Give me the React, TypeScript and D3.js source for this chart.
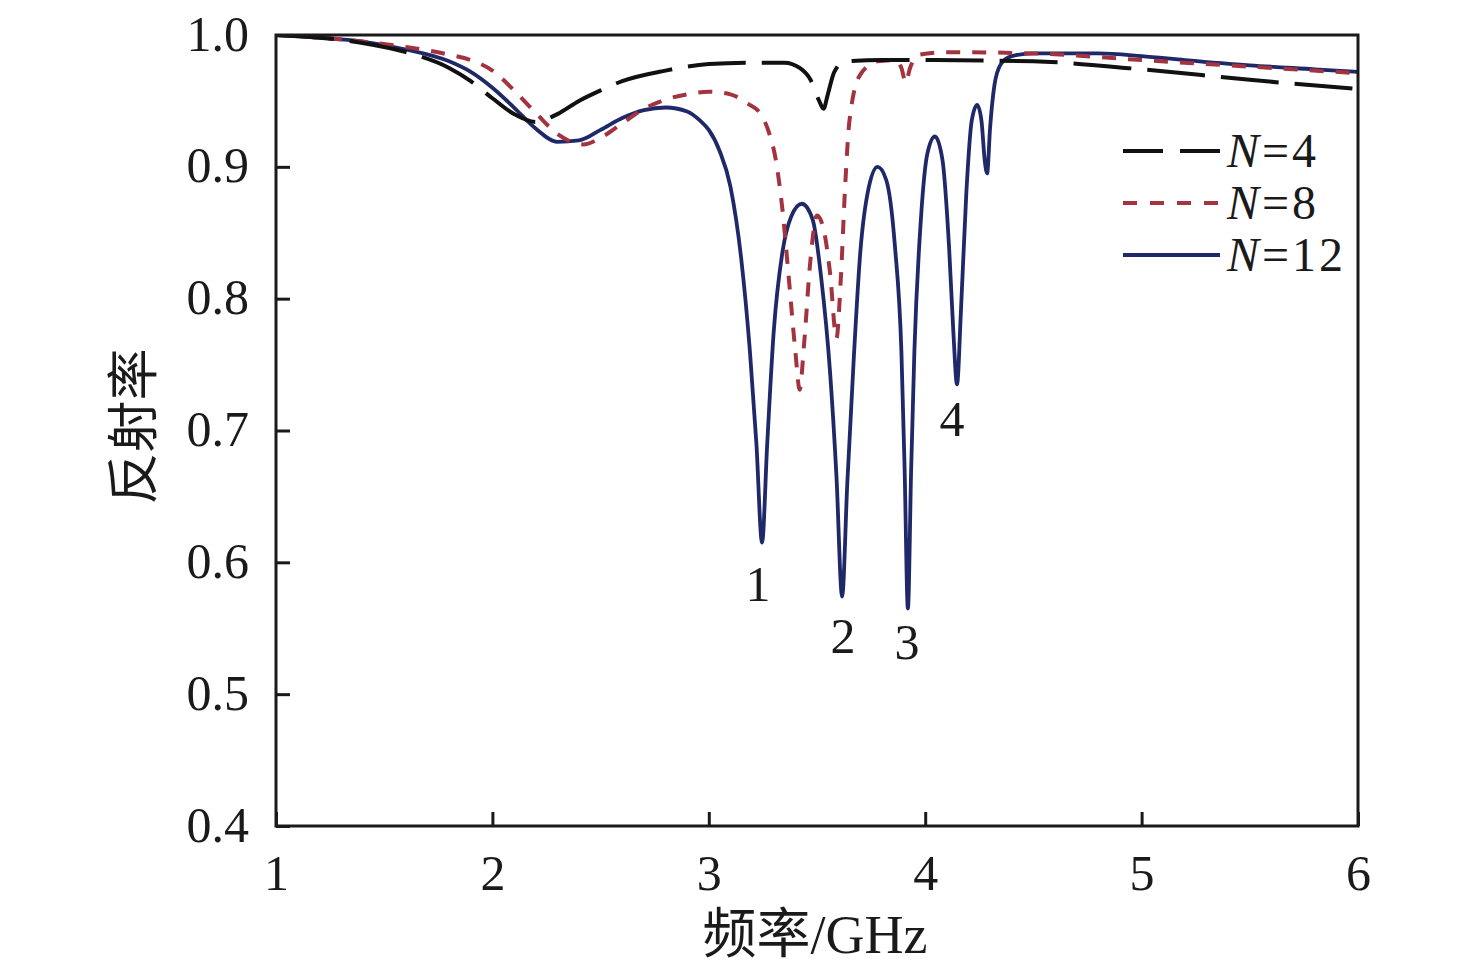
import React, { useEffect, useRef } from 'react';
import * as d3 from 'd3';

// 频率 (GHz) / 反射率 samples
const freqN4 = [1.0, 1.2, 1.4, 1.6, 1.8, 1.9, 2.0, 2.1, 2.2, 2.3, 2.4, 2.5, 2.6, 2.8, 3.0, 3.2, 3.35, 3.42, 3.47, 3.51, 3.53, 3.55, 3.58, 3.63, 3.8, 4.0, 4.5, 5.0, 5.5, 6.0];
const reflN4 = [1.0, 0.998, 0.994, 0.987, 0.975, 0.965, 0.952, 0.94, 0.934, 0.94, 0.95, 0.958, 0.965, 0.973, 0.978, 0.979, 0.979, 0.975, 0.966, 0.95, 0.944, 0.955, 0.972, 0.98, 0.981, 0.981, 0.98, 0.974, 0.966, 0.959];

const freqN8 = [1.0, 1.2, 1.4, 1.6, 1.8, 1.9, 2.0, 2.1, 2.2, 2.3, 2.42, 2.5, 2.6, 2.7, 2.8, 2.9, 3.0, 3.1, 3.18, 3.24, 3.28, 3.31, 3.34, 3.37, 3.4, 3.42, 3.44, 3.47, 3.5, 3.53, 3.56, 3.59, 3.61, 3.63, 3.65, 3.7, 3.78, 3.86, 3.89, 3.91, 3.93, 3.97, 4.1, 4.5, 5.0, 5.5, 6.0];
const reflN8 = [1.0, 0.998, 0.995, 0.991, 0.985, 0.981, 0.973, 0.958, 0.941, 0.925, 0.917, 0.922, 0.933, 0.944, 0.951, 0.955, 0.957, 0.955, 0.948, 0.94, 0.925, 0.905, 0.868, 0.815, 0.76, 0.731, 0.765, 0.83, 0.863, 0.853, 0.82, 0.77, 0.815, 0.885, 0.935, 0.97, 0.98, 0.981, 0.975, 0.964, 0.975, 0.985, 0.987, 0.986, 0.981, 0.976, 0.971];

const freqN12 = [1.0, 1.2, 1.4, 1.6, 1.8, 1.9, 2.0, 2.1, 2.2, 2.3, 2.4, 2.5, 2.6, 2.7, 2.8, 2.9, 2.96, 3.0, 3.05, 3.1, 3.15, 3.19, 3.22, 3.246, 3.27, 3.3, 3.34, 3.38, 3.43, 3.48, 3.52, 3.56, 3.59, 3.616, 3.64, 3.67, 3.7, 3.74, 3.78, 3.82, 3.86, 3.89, 3.905, 3.92, 3.935, 3.95, 3.98, 4.01, 4.045, 4.08, 4.11, 4.13, 4.147, 4.165, 4.19, 4.215, 4.24, 4.26, 4.275, 4.286, 4.3, 4.32, 4.35, 4.4, 4.5, 4.8, 5.0, 5.2, 5.5, 5.8, 6.0];
const reflN12 = [1.0, 0.998, 0.995, 0.989, 0.98, 0.972, 0.96, 0.945, 0.929, 0.919, 0.92, 0.928, 0.937, 0.943, 0.945, 0.942, 0.935, 0.928, 0.912, 0.885, 0.83, 0.76, 0.69, 0.615, 0.69, 0.775, 0.835, 0.862, 0.872, 0.86, 0.815, 0.745, 0.665, 0.574, 0.66, 0.755, 0.835, 0.885, 0.9, 0.89, 0.84, 0.76, 0.67, 0.565, 0.67, 0.76, 0.86, 0.91, 0.923, 0.905, 0.84, 0.775, 0.735, 0.79, 0.88, 0.935, 0.947, 0.935, 0.905, 0.895, 0.93, 0.962, 0.978, 0.984, 0.986, 0.986, 0.984, 0.981, 0.977, 0.974, 0.972];

const xTicks = [1, 2, 3, 4, 5, 6];
const yTicks = [0.4, 0.5, 0.6, 0.7, 0.8, 0.9, 1.0];

const seriesNames = ['4', '8', '12'];
const seriesColors = ['#111111', '#a3343f', '#1f2868'];
const seriesDash = ['58 16', '14 12', null];

// dip labels (baseline position in data units)
const dipLabels = ['1', '2', '3', '4'];
const dipFreq = [3.227, 3.62, 3.916, 4.124];
const dipRefl = [0.571, 0.531, 0.527, 0.696];

const W = 1476;
const H = 976;
const m = { left: 276, right: 1358, top: 35, bottom: 826 };
const serif = '"Liberation Serif", "Times New Roman", serif';
const cjk = '"Liberation Serif", "Noto Sans CJK SC", serif';

const App: React.FC = () => {
  const svgRef = useRef<SVGSVGElement | null>(null);

  useEffect(() => {
    if (!svgRef.current) return;
    const svg = d3.select(svgRef.current);
    svg.selectAll('*').remove();

    const x = d3.scaleLinear().domain([1, 6]).range([m.left, m.right]);
    const y = d3.scaleLinear().domain([0.4, 1.0]).range([m.bottom, m.top]);

    svg
      .append('clipPath')
      .attr('id', 'plotclip')
      .append('rect')
      .attr('x', m.left)
      .attr('y', m.top)
      .attr('width', m.right - m.left)
      .attr('height', m.bottom - m.top);

    const line = d3
      .line<[number, number]>()
      .x((d) => x(d[0]))
      .y((d) => y(d[1]))
      .curve(d3.curveMonotoneX);

    const series: [number, number][][] = [
      freqN4.map((f, i) => [f, reflN4[i]]),
      freqN8.map((f, i) => [f, reflN8[i]]),
      freqN12.map((f, i) => [f, reflN12[i]]),
    ];

    const g = svg.append('g').attr('clip-path', 'url(#plotclip)');
    // N=12 first so the dashed curves stay visible on top
    [2, 1, 0].forEach((i) => {
      g.append('path')
        .attr('d', line(series[i]))
        .attr('fill', 'none')
        .attr('stroke', seriesColors[i])
        .attr('stroke-width', i === 2 ? 3.8 : 4)
        .attr('stroke-dasharray', seriesDash[i] ?? null)
        .attr('stroke-linejoin', 'round');
    });

    // frame
    svg
      .append('rect')
      .attr('x', m.left)
      .attr('y', m.top)
      .attr('width', m.right - m.left)
      .attr('height', m.bottom - m.top)
      .attr('fill', 'none')
      .attr('stroke', '#1a1a1a')
      .attr('stroke-width', 3);

    // x axis, ticks inward
    const xAxis = svg
      .append('g')
      .attr('transform', `translate(0,${m.bottom})`)
      .call(
        d3
          .axisBottom(x)
          .tickValues(xTicks)
          .tickSize(-14)
          .tickFormat((d) => String(d))
      );
    xAxis.select('.domain').remove();
    xAxis.selectAll('line').attr('stroke', '#1a1a1a').attr('stroke-width', 3);
    xAxis
      .selectAll('text')
      .attr('y', 64)
      .attr('dy', 0)
      .attr('fill', '#1a1a1a')
      .style('font-family', serif)
      .style('font-size', '50px');

    const yAxis = svg
      .append('g')
      .attr('transform', `translate(${m.left},0)`)
      .call(
        d3
          .axisLeft(y)
          .tickValues(yTicks)
          .tickSize(-14)
          .tickFormat(d3.format('.1f'))
      );
    yAxis.select('.domain').remove();
    yAxis.selectAll('line').attr('stroke', '#1a1a1a').attr('stroke-width', 3);
    yAxis
      .selectAll('text')
      .attr('x', -27)
      .attr('dy', '0.3em')
      .attr('fill', '#1a1a1a')
      .style('font-family', serif)
      .style('font-size', '50px');

    // axis titles
    svg
      .append('text')
      .attr('x', 815)
      .attr('y', 953)
      .attr('text-anchor', 'middle')
      .attr('fill', '#1a1a1a')
      .style('font-family', cjk)
      .style('font-size', '54px')
      .text('频率/GHz');

    svg
      .append('text')
      .attr('transform', `translate(152,${(m.top + m.bottom) / 2 - 4}) rotate(-90)`)
      .attr('text-anchor', 'middle')
      .attr('fill', '#1a1a1a')
      .style('font-family', cjk)
      .style('font-size', '52px')
      .text('反射率');

    // dip numbers
    svg
      .selectAll('.dip')
      .data(dipLabels)
      .enter()
      .append('text')
      .attr('class', 'dip')
      .attr('x', (_d, i) => x(dipFreq[i]))
      .attr('y', (_d, i) => y(dipRefl[i]))
      .attr('text-anchor', 'middle')
      .attr('fill', '#1a1a1a')
      .style('font-family', serif)
      .style('font-size', '50px')
      .text((d) => d);

    // legend
    const legend = svg
      .selectAll('.legend')
      .data(seriesNames)
      .enter()
      .append('g')
      .attr('class', 'legend')
      .attr('transform', (_d, i) => `translate(0,${151 + i * 52})`);

    legend
      .append('line')
      .attr('x1', 1123)
      .attr('x2', 1220)
      .attr('y1', 0)
      .attr('y2', 0)
      .attr('stroke', (_d, i) => seriesColors[i])
      .attr('stroke-width', (_d, i) => (i === 2 ? 3.8 : 4))
      .attr('stroke-dasharray', (_d, i) => (i === 0 ? '40 17' : i === 1 ? '14 13' : null));

    const lt = legend
      .append('text')
      .attr('x', 1227)
      .attr('y', 16)
      .attr('fill', '#1a1a1a')
      .style('font-family', serif)
      .style('font-size', '48px')
      .style('letter-spacing', '3px');
    lt.append('tspan').style('font-style', 'italic').text('N');
    lt.append('tspan').text((d) => `=${d}`);
  }, []);

  return (
    <svg
      ref={svgRef}
      width={W}
      height={H}
      viewBox={`0 0 ${W} ${H}`}
      style={{ position: 'absolute', left: 0, top: 0, background: '#fff' }}
    ></svg>
  );
};

export default App;
